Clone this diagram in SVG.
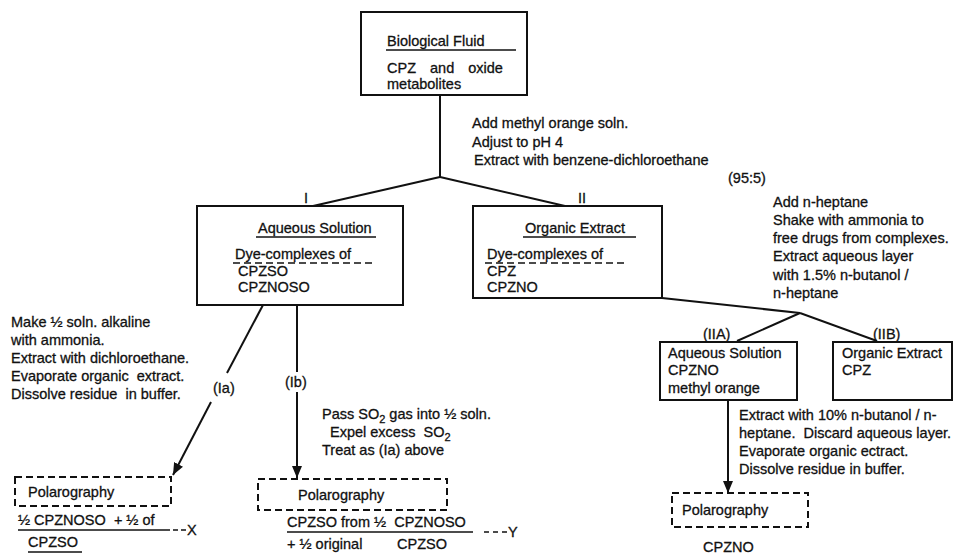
<svg xmlns="http://www.w3.org/2000/svg" width="966" height="555" viewBox="0 0 966 555">
<style>
  .t { font-family: "Liberation Sans", Arial, sans-serif; font-size: 14.5px; fill: #111; stroke: #111; stroke-width: 0.3; }
  .box { fill: none; stroke: #111; stroke-width: 2; }
  .dbox { fill: none; stroke: #111; stroke-width: 2; stroke-dasharray: 7 4; }
  .ul { stroke: #111; stroke-width: 1.4; }
  .dul { stroke: #111; stroke-width: 1.4; stroke-dasharray: 7 4; }
  .c { fill: none; stroke: #111; stroke-width: 2; }
  .sub { font-size: 11px; }
</style>
<defs>
  <marker id="ah" viewBox="0 0 12 10" refX="12" refY="5" markerWidth="12" markerHeight="10" markerUnits="userSpaceOnUse" orient="auto">
    <path d="M0,0 L12,5 L0,10 z" fill="#111"/>
  </marker>
</defs>
<rect width="966" height="555" fill="#fff"/>

<g id="connectors">
  <line class="c" x1="440" y1="95" x2="440" y2="177"/>
  <line class="c" x1="440" y1="177" x2="313" y2="206"/>
  <line class="c" x1="440" y1="177" x2="565" y2="206"/>
  <line class="c" x1="662" y1="298" x2="800" y2="313"/>
  <line class="c" x1="800" y1="313" x2="737" y2="341"/>
  <line class="c" x1="800" y1="313" x2="877" y2="341"/>
  <line class="c" x1="263" y1="305" x2="227" y2="373"/>
  <line class="c" x1="211" y1="402" x2="173" y2="475" marker-end="url(#ah)"/>
  <line class="c" x1="297" y1="305" x2="297" y2="372"/>
  <line class="c" x1="297" y1="392" x2="297" y2="478" marker-end="url(#ah)"/>
  <line class="c" x1="728" y1="400" x2="728" y2="493" marker-end="url(#ah)"/>
</g>

<g id="labels">
  <text class="t" x="304" y="203">I</text>
  <text class="t" x="578" y="203">II</text>
  <text class="t" x="703" y="339">(IIA)</text>
  <text class="t" x="873" y="339">(IIB)</text>
  <text class="t" x="213" y="393">(Ia)</text>
  <text class="t" x="285" y="387">(Ib)</text>
</g>

<g id="n-bio">
  <rect class="box" x="361" y="12" width="166" height="83"/>
  <text class="t" x="387" y="46">Biological Fluid</text>
  <line class="ul" x1="386" y1="50" x2="516" y2="50"/>
  <text class="t" x="387" y="73" word-spacing="10">CPZ and oxide</text>
  <text class="t" x="387" y="89">metabolites</text>
</g>

<g id="step1">
  <text class="t" x="472" y="128">Add methyl orange soln.</text>
  <text class="t" x="472" y="147">Adjust to pH 4</text>
  <text class="t" x="474" y="165">Extract with benzene-dichloroethane</text>
  <text class="t" x="728" y="183">(95:5)</text>
</g>

<g id="n-aq1">
  <rect class="box" x="197" y="206" width="206" height="99"/>
  <text class="t" x="258" y="233">Aqueous Solution</text>
  <line class="ul" x1="256" y1="237" x2="376" y2="237"/>
  <text class="t" x="235" y="259">Dye-complexes of</text>
  <line class="dul" x1="233" y1="263" x2="376" y2="263"/>
  <text class="t" x="238" y="276">CPZSO</text>
  <text class="t" x="238" y="292">CPZNOSO</text>
</g>

<g id="n-org2">
  <rect class="box" x="473" y="206" width="189" height="92"/>
  <text class="t" x="525" y="233">Organic Extract</text>
  <line class="ul" x1="523" y1="237" x2="636" y2="237"/>
  <text class="t" x="487" y="259">Dye-complexes of</text>
  <line class="dul" x1="485" y1="263" x2="624" y2="263"/>
  <text class="t" x="487" y="276">CPZ</text>
  <text class="t" x="487" y="292">CPZNO</text>
</g>

<g id="step2">
  <text class="t" x="773" y="207">Add n-heptane</text>
  <text class="t" x="773" y="225">Shake with ammonia to</text>
  <text class="t" x="773" y="243">free drugs from complexes.</text>
  <text class="t" x="773" y="261">Extract aqueous layer</text>
  <text class="t" x="773" y="280">with 1.5% n-butanol /</text>
  <text class="t" x="773" y="298">n-heptane</text>
</g>

<g id="n-iia">
  <rect class="box" x="660" y="342" width="137" height="58"/>
  <text class="t" x="668" y="358">Aqueous Solution</text>
  <text class="t" x="668" y="375">CPZNO</text>
  <text class="t" x="668" y="393">methyl orange</text>
</g>

<g id="n-iib">
  <rect class="box" x="833" y="342" width="119" height="58"/>
  <text class="t" x="842" y="358">Organic Extract</text>
  <text class="t" x="842" y="375">CPZ</text>
</g>

<g id="step-ia">
  <text class="t" x="11" y="327">Make ½ soln. alkaline</text>
  <text class="t" x="11" y="345">with ammonia.</text>
  <text class="t" x="11" y="363">Extract with dichloroethane.</text>
  <text class="t" x="11" y="381" xml:space="preserve">Evaporate organic  extract.</text>
  <text class="t" x="11" y="399" xml:space="preserve">Dissolve residue  in buffer.</text>
</g>

<g id="step-ib">
  <text class="t" x="322" y="419">Pass SO<tspan class="sub" dy="4">2</tspan><tspan dy="-4"> gas into ½ soln.</tspan></text>
  <text class="t" x="330" y="437" xml:space="preserve">Expel excess  SO<tspan class="sub" dy="4">2</tspan></text>
  <text class="t" x="322" y="455">Treat as (Ia) above</text>
</g>

<g id="step-iia">
  <text class="t" x="739" y="420">Extract with 10% n-butanol / n-</text>
  <text class="t" x="739" y="438" xml:space="preserve">heptane.  Discard aqueous layer.</text>
  <text class="t" x="739" y="456">Evaporate organic ectract.</text>
  <text class="t" x="739" y="474">Dissolve residue in buffer.</text>
</g>

<g id="n-pol-a">
  <rect class="dbox" x="15" y="477" width="156" height="29"/>
  <text class="t" x="28" y="497">Polarography</text>
  <text class="t" x="18" y="525" xml:space="preserve">½ CPZNOSO  + ½ of</text>
  <line class="ul" x1="18" y1="530" x2="170" y2="530"/>
  <line class="dul" x1="173" y1="530" x2="186" y2="530" style="stroke-dasharray:5 3"/>
  <text class="t" x="187" y="535">X</text>
  <text class="t" x="28" y="547">CPZSO</text>
  <line class="ul" x1="28" y1="552" x2="82" y2="552"/>
</g>

<g id="n-pol-b">
  <rect class="dbox" x="258" y="479" width="189" height="31"/>
  <text class="t" x="298" y="500">Polarography</text>
  <text class="t" x="287" y="527" xml:space="preserve">CPZSO from ½  CPZNOSO</text>
  <line class="ul" x1="287" y1="532" x2="473" y2="532"/>
  <text class="t" x="287" y="549">+ ½ original</text>
  <text class="t" x="397" y="549">CPZSO</text>
  <line class="dul" x1="484" y1="532" x2="507" y2="532" style="stroke-dasharray:5 4"/>
  <text class="t" x="508" y="537">Y</text>
</g>

<g id="n-pol-c">
  <rect class="dbox" x="672" y="493" width="136" height="34"/>
  <text class="t" x="682" y="515">Polarography</text>
  <text class="t" x="703" y="552">CPZNO</text>
</g>
</svg>
